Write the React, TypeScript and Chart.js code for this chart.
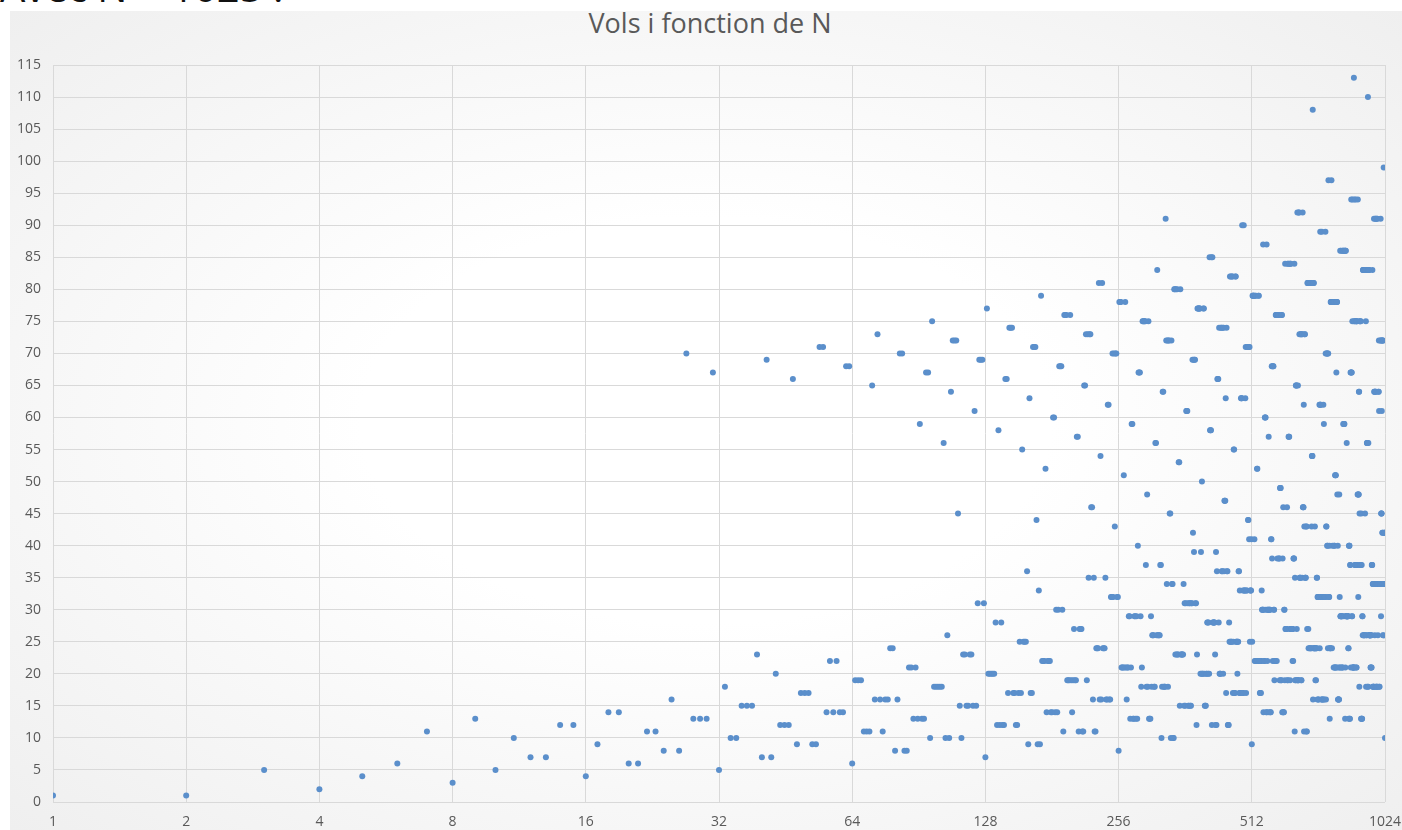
import React, { useEffect, useRef } from "react";
import { Chart, registerables } from "chart.js";

Chart.register(...registerables);

// Tick labels of the base-2 logarithmic x axis
const xTickValues = [1, 2, 4, 8, 16, 32, 64, 128, 256, 512, 1024];
const yMin = 0;
const yMax = 115;
const yStep = 5;

// "Vol" (flight length) for N = 1 .. 1024, in groups of 128
const flightN1to128 = [
  1, 1, 5, 2, 4, 6, 11, 3, 13, 5, 10, 7, 7, 12, 12, 4, 9, 14, 14, 6, 6, 11, 11, 8, 16, 8, 70, 13, 13, 13, 67, 5,
  18, 10, 10, 15, 15, 15, 23, 7, 69, 7, 20, 12, 12, 12, 66, 9, 17, 17, 17, 9, 9, 71, 71, 14, 22, 14, 22, 14, 14, 68, 68, 6,
  19, 19, 19, 11, 11, 11, 65, 16, 73, 16, 11, 16, 16, 24, 24, 8, 16, 70, 70, 8, 8, 21, 21, 13, 21, 13, 59, 13, 13, 67, 67, 10,
  75, 18, 18, 18, 18, 18, 56, 10, 26, 10, 64, 72, 72, 72, 45, 15, 10, 23, 23, 15, 15, 23, 23, 15, 61, 15, 31, 69, 69, 69, 31, 7,
];
const flightN129to256 = [
  77, 20, 20, 20, 20, 20, 28, 12, 58, 12, 28, 12, 12, 66, 66, 17, 74, 74, 74, 17, 17, 12, 12, 17, 25, 17, 55, 25, 25, 25, 36, 9,
  63, 17, 17, 71, 71, 71, 44, 9, 33, 9, 79, 22, 22, 22, 52, 14, 22, 22, 22, 14, 14, 60, 60, 14, 30, 14, 30, 68, 68, 68, 30, 11,
  76, 76, 76, 19, 19, 19, 76, 19, 14, 19, 27, 19, 19, 57, 57, 11, 27, 27, 27, 11, 11, 65, 65, 73, 19, 73, 35, 73, 73, 46, 46, 16,
  35, 11, 11, 24, 24, 24, 81, 16, 54, 16, 81, 24, 24, 24, 35, 16, 16, 62, 62, 16, 16, 32, 32, 70, 32, 70, 43, 70, 70, 32, 32, 8,
];
const flightN257to384 = [
  78, 78, 78, 21, 21, 21, 51, 21, 78, 21, 16, 21, 21, 29, 29, 13, 21, 59, 59, 13, 13, 29, 29, 13, 29, 13, 40, 67, 67, 67, 29, 18,
  21, 75, 75, 75, 75, 75, 37, 18, 48, 18, 75, 13, 13, 13, 29, 18, 26, 26, 26, 18, 18, 56, 56, 26, 83, 26, 26, 26, 26, 37, 37, 10,
  18, 64, 64, 18, 18, 18, 91, 72, 34, 72, 18, 72, 72, 45, 45, 10, 72, 34, 34, 10, 10, 80, 80, 23, 80, 23, 80, 23, 23, 53, 53, 15,
  80, 23, 23, 23, 23, 23, 34, 15, 31, 15, 31, 61, 61, 61, 31, 15, 15, 31, 31, 15, 15, 31, 31, 69, 42, 69, 39, 69, 69, 31, 31, 12,
];
const flightN385to512 = [
  23, 77, 77, 77, 77, 77, 77, 20, 39, 20, 50, 20, 20, 77, 77, 20, 15, 15, 15, 20, 20, 28, 28, 20, 28, 20, 85, 58, 58, 58, 85, 12,
  85, 28, 28, 28, 28, 28, 23, 12, 39, 12, 36, 66, 66, 66, 28, 74, 20, 20, 20, 74, 74, 36, 36, 74, 20, 74, 36, 47, 47, 47, 63, 17,
  74, 36, 36, 12, 12, 12, 28, 25, 82, 25, 82, 25, 25, 82, 82, 17, 25, 55, 55, 17, 17, 82, 82, 25, 25, 25, 20, 25, 25, 36, 36, 17,
  33, 17, 17, 63, 63, 63, 90, 17, 33, 17, 90, 33, 33, 33, 63, 71, 17, 33, 33, 71, 71, 44, 44, 71, 41, 71, 25, 33, 33, 33, 41, 9,
];
const flightN513to640 = [
  25, 79, 79, 79, 79, 79, 41, 22, 79, 22, 79, 22, 22, 52, 52, 22, 22, 79, 79, 22, 22, 17, 17, 22, 17, 22, 33, 30, 30, 30, 87, 14,
  30, 22, 22, 60, 60, 60, 30, 14, 87, 14, 22, 30, 30, 30, 57, 14, 30, 30, 30, 14, 14, 41, 41, 68, 38, 68, 22, 68, 68, 30, 30, 19,
  22, 22, 22, 76, 76, 76, 22, 76, 38, 76, 76, 76, 76, 38, 38, 19, 49, 49, 49, 19, 19, 76, 76, 14, 38, 14, 46, 14, 14, 30, 30, 19,
  84, 27, 27, 27, 27, 27, 46, 19, 84, 19, 84, 57, 57, 57, 84, 27, 19, 84, 84, 27, 27, 27, 27, 27, 22, 27, 22, 38, 38, 38, 84, 11,
];
const flightN641to768 = [
  35, 19, 19, 65, 65, 65, 27, 19, 92, 19, 65, 19, 19, 92, 92, 73, 35, 35, 35, 73, 73, 19, 19, 73, 35, 73, 92, 46, 46, 46, 62, 11,
  43, 73, 73, 35, 35, 35, 43, 11, 43, 11, 27, 81, 81, 81, 27, 24, 81, 81, 81, 24, 24, 81, 81, 24, 81, 24, 43, 54, 54, 54, 108, 16,
  24, 81, 81, 24, 24, 24, 43, 24, 19, 24, 19, 24, 24, 35, 35, 16, 32, 32, 32, 16, 16, 32, 32, 62, 24, 62, 89, 62, 62, 32, 32, 16,
  89, 16, 16, 32, 32, 32, 62, 16, 59, 16, 32, 32, 32, 32, 89, 70, 16, 43, 43, 70, 70, 40, 40, 70, 24, 70, 97, 32, 32, 32, 40, 13,
];
const flightN769to896 = [
  24, 24, 24, 78, 78, 78, 97, 78, 24, 78, 40, 78, 78, 78, 78, 21, 78, 40, 40, 21, 21, 51, 51, 21, 51, 21, 67, 78, 78, 78, 48, 21,
  40, 16, 16, 16, 16, 16, 48, 21, 32, 21, 86, 29, 29, 29, 86, 21, 29, 29, 29, 21, 21, 86, 86, 59, 86, 59, 29, 59, 59, 86, 86, 13,
  21, 86, 86, 29, 29, 29, 56, 29, 29, 29, 29, 29, 29, 24, 24, 13, 40, 40, 40, 13, 13, 37, 37, 67, 21, 67, 94, 67, 67, 29, 29, 75,
  94, 21, 21, 21, 21, 21, 113, 75, 94, 75, 21, 37, 37, 37, 94, 75, 75, 21, 21, 75, 75, 37, 37, 48, 94, 48, 32, 48, 48, 64, 64, 18,
];
const flightN897to1024 = [
  45, 75, 75, 37, 37, 37, 75, 13, 45, 13, 37, 13, 13, 29, 29, 26, 83, 83, 83, 26, 26, 83, 83, 26, 83, 26, 45, 83, 83, 83, 75, 18,
  83, 26, 26, 56, 56, 56, 83, 18, 110, 18, 56, 83, 83, 83, 26, 26, 26, 26, 26, 26, 26, 21, 21, 26, 21, 26, 21, 37, 37, 37, 83, 18,
  34, 34, 34, 18, 18, 18, 91, 64, 34, 64, 26, 64, 64, 91, 91, 18, 64, 34, 34, 18, 18, 91, 91, 34, 18, 34, 26, 34, 34, 64, 64, 72,
  61, 18, 18, 34, 34, 34, 34, 72, 91, 72, 29, 45, 45, 45, 61, 72, 72, 42, 42, 72, 72, 26, 26, 34, 99, 34, 42, 34, 34, 42, 42, 10,
];

const flights = [
  ...flightN1to128,
  ...flightN129to256,
  ...flightN257to384,
  ...flightN385to512,
  ...flightN513to640,
  ...flightN641to768,
  ...flightN769to896,
  ...flightN897to1024,
];

const FONT = "'Open Sans', 'Noto Sans', sans-serif";

export default function App() {
  const canvasRef = useRef<HTMLCanvasElement | null>(null);

  useEffect(() => {
    const canvas = canvasRef.current;
    if (!canvas) return;
    const points = flights.map((v, i) => ({ x: i + 1, y: v }));
    const chart = new Chart(canvas, {
      type: "scatter",
      data: {
        datasets: [
          {
            label: "Vols",
            data: points,
            backgroundColor: "#5b8fcb",
            borderColor: "#5b8fcb",
            borderWidth: 0,
            pointRadius: 3,
            pointHoverRadius: 3,
          },
        ],
      },
      options: {
        animation: false,
        responsive: false,
        maintainAspectRatio: false,
        events: [],
        layout: { padding: { left: 0, right: 0, top: 54, bottom: 0 } },
        plugins: {
          legend: { display: false },
          tooltip: { enabled: false },
          title: { display: false },
        },
        scales: {
          x: {
            type: "logarithmic",
            min: 1,
            max: 1024,
            afterBuildTicks: (scale: any) => {
              scale.ticks = xTickValues.map((v) => ({ value: v }));
            },
            afterFit: (scale: any) => {
              scale.height = 28;
              scale.paddingLeft = 0;
              scale.paddingRight = 17;
            },
            ticks: {
              autoSkip: false,
              maxRotation: 0,
              minRotation: 0,
              padding: 12,
              color: "#595959",
              font: { family: FONT, size: 14 },
              callback: (v: any) => String(v),
            },
            grid: { color: "#d9d9d9", lineWidth: 1, drawTicks: false },
            border: { display: false },
          },
          y: {
            min: yMin,
            max: yMax,
            afterFit: (scale: any) => {
              scale.width = 43;
            },
            ticks: {
              stepSize: yStep,
              padding: 12,
              color: "#595959",
              font: { family: FONT, size: 14 },
            },
            grid: { color: "#d9d9d9", lineWidth: 1, drawTicks: false },
            border: { display: false },
          },
        },
      },
    });
    return () => chart.destroy();
  }, []);

  return (
    <div style={{ position: "absolute", left: 0, top: 0, width: 1402, height: 830, overflow: "hidden", background: "#ffffff" }}>
      <div
        style={{
          position: "absolute",
          left: 0,
          top: -33,
          fontFamily: FONT,
          fontSize: 40,
          lineHeight: "40px",
          color: "#111111",
          whiteSpace: "nowrap",
        }}
      >
        Avec N &lt; 1025 :
      </div>
      <div
        style={{
          position: "absolute",
          left: 10,
          top: 11,
          width: 1392,
          height: 819,
          background: "radial-gradient(ellipse at 50% 50%, #ffffff 35%, #efefef 100%)",
        }}
      />
      <div
        style={{
          position: "absolute",
          left: 0,
          top: 9,
          width: 1420,
          textAlign: "center",
          fontFamily: FONT,
          fontSize: 27,
          lineHeight: "27px",
          color: "#595959",
          whiteSpace: "nowrap",
        }}
      >
        Vols i fonction de N
      </div>
      <canvas
        ref={canvasRef}
        width={1392}
        height={819}
        style={{ position: "absolute", left: 10, top: 11, width: 1392, height: 819, display: "block" }}
      />
    </div>
  );
}
